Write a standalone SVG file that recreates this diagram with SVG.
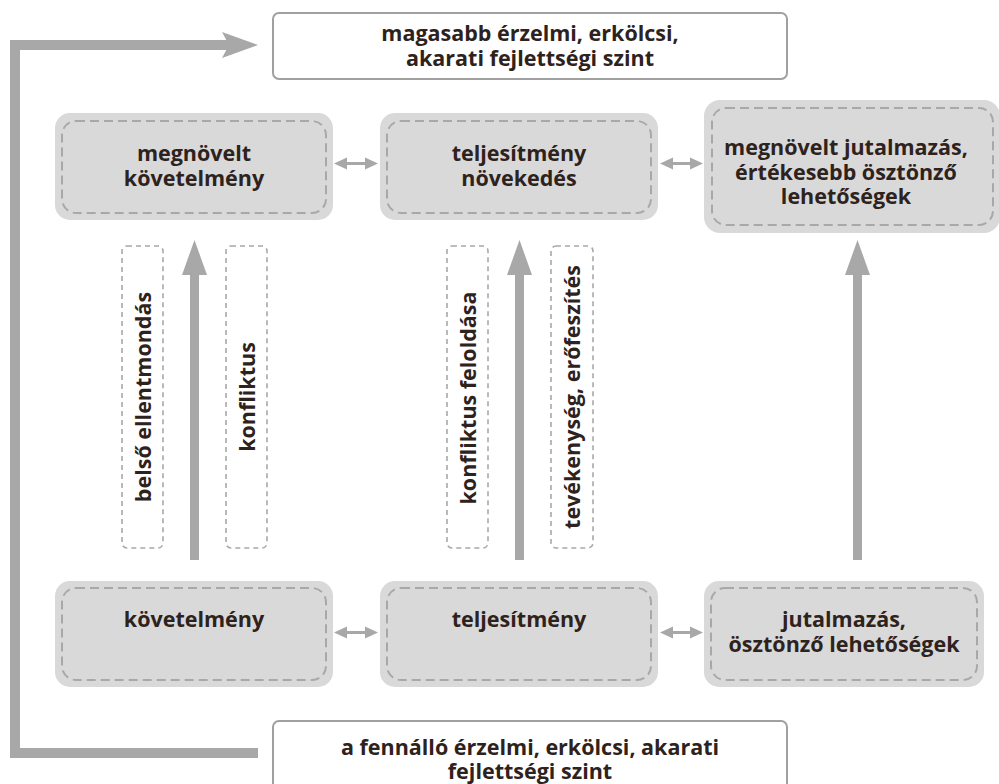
<svg xmlns="http://www.w3.org/2000/svg" width="999" height="784" viewBox="0 0 999 784">
  <defs>
    <style>
      .node-bg { fill: #d9d9d9; }
      .node-dash { fill: none; stroke: #a8a8a8; stroke-width: 2; stroke-dasharray: 9 5; }
      .label-box { fill: none; stroke: #a8a8a8; stroke-width: 1.6; stroke-dasharray: 5 4; }
      .white-box { fill: #ffffff; stroke: #a0a0a0; stroke-width: 2; }
      .t { font-family: "Open Sans", "Noto Sans", "DejaVu Sans", sans-serif; font-weight: 700; font-size: 21.5px; fill: #2e221c; text-anchor: middle; }
      .tv { font-family: "Open Sans", "Noto Sans", "DejaVu Sans", sans-serif; font-weight: 700; font-size: 21.5px; fill: #2e221c; text-anchor: middle; }
      .arrow { fill: #a8a8a8; }
      .line { fill: none; stroke: #a8a8a8; }
    </style>
  </defs>

  <!-- top white box -->
  <g id="higher-level">
    <rect class="white-box" x="273" y="13" width="514" height="66" rx="6"/>
    <text class="t" x="530" y="41">magasabb érzelmi, erkölcsi,</text>
    <text class="t" x="530" y="66">akarati fejlettségi szint</text>
  </g>

  <!-- bottom white box -->
  <g id="current-level">
    <rect class="white-box" x="273" y="721" width="514" height="70" rx="6"/>
    <text class="t" x="530" y="755">a fennálló érzelmi, erkölcsi, akarati</text>
    <text class="t" x="530" y="779">fejlettségi szint</text>
  </g>

  <!-- upper nodes -->
  <g id="increased-requirement">
    <rect class="node-bg" x="55" y="113" width="278" height="107" rx="15"/>
    <rect class="node-dash" x="62" y="121" width="264" height="92" rx="14"/>
    <text class="t" x="194" y="161">megnövelt</text>
    <text class="t" x="194" y="186">követelmény</text>
  </g>
  <g id="performance-growth">
    <rect class="node-bg" x="380" y="113" width="278" height="107" rx="15"/>
    <rect class="node-dash" x="387" y="121" width="264" height="92" rx="14"/>
    <text class="t" x="519" y="161">teljesítmény</text>
    <text class="t" x="519" y="186">növekedés</text>
  </g>
  <g id="increased-reward">
    <rect class="node-bg" x="704" y="100" width="296" height="133" rx="16"/>
    <rect class="node-dash" x="712" y="108" width="281" height="117" rx="14"/>
    <text class="t" x="846" y="155">megnövelt jutalmazás,</text>
    <text class="t" x="846" y="180">értékesebb ösztönző</text>
    <text class="t" x="846" y="204">lehetőségek</text>
  </g>

  <!-- lower nodes -->
  <g id="requirement">
    <rect class="node-bg" x="55" y="581" width="278" height="106" rx="15"/>
    <rect class="node-dash" x="62" y="588" width="264" height="92" rx="14"/>
    <text class="t" x="194" y="627">követelmény</text>
  </g>
  <g id="performance">
    <rect class="node-bg" x="380" y="581" width="278" height="106" rx="15"/>
    <rect class="node-dash" x="387" y="588" width="264" height="92" rx="14"/>
    <text class="t" x="519" y="627">teljesítmény</text>
  </g>
  <g id="reward">
    <rect class="node-bg" x="704" y="581" width="280" height="106" rx="15"/>
    <rect class="node-dash" x="711" y="588" width="266" height="92" rx="14"/>
    <text class="t" x="844" y="627">jutalmazás,</text>
    <text class="t" x="844" y="652">ösztönző lehetőségek</text>
  </g>

  <!-- vertical label boxes -->
  <g id="label-inner-contradiction">
    <rect class="label-box" x="122" y="246" width="41" height="302" rx="5"/>
    <text class="tv" transform="translate(151 397) rotate(-90)">belső ellentmondás</text>
  </g>
  <g id="label-conflict">
    <rect class="label-box" x="226" y="246" width="41" height="302" rx="5"/>
    <text class="tv" transform="translate(255 397) rotate(-90)">konfliktus</text>
  </g>
  <g id="label-conflict-resolution">
    <rect class="label-box" x="447" y="246" width="41" height="302" rx="5"/>
    <text class="tv" transform="translate(476 398) rotate(-90)">konfliktus feloldása</text>
  </g>
  <g id="label-activity">
    <rect class="label-box" x="551" y="246" width="42" height="302" rx="5"/>
    <text class="tv" transform="translate(580 397) rotate(-90)">tevékenység, erőfeszítés</text>
  </g>

  <!-- connectors -->
  <g id="connectors">
    <!-- feedback loop -->
    <path class="line" stroke-width="10" d="M258 753 H15 V45 H230"/>
    <polygon class="arrow" points="258,45 222,32 229,45 222,58"/>

    <!-- vertical arrows -->
    <rect class="arrow" x="190" y="270" width="9" height="290"/>
    <polygon class="arrow" points="194.5,240 207,275 182,275"/>
    <rect class="arrow" x="515" y="270" width="9" height="290"/>
    <polygon class="arrow" points="519.5,240 532,275 507,275"/>
    <rect class="arrow" x="853" y="270" width="9" height="290"/>
    <polygon class="arrow" points="857.5,240 870,275 845,275"/>

    <!-- horizontal double arrows -->
    <g>
      <rect class="arrow" x="344" y="162" width="25" height="3"/>
      <polygon class="arrow" points="334,163.5 347,157.5 347,169.5"/>
      <polygon class="arrow" points="378,163.5 365,157.5 365,169.5"/>
    </g>
    <g>
      <rect class="arrow" x="670" y="162" width="24" height="3"/>
      <polygon class="arrow" points="660,163.5 673,157.5 673,169.5"/>
      <polygon class="arrow" points="703,163.5 690,157.5 690,169.5"/>
    </g>
    <g>
      <rect class="arrow" x="344" y="631" width="25" height="3"/>
      <polygon class="arrow" points="334,632.5 347,626.5 347,638.5"/>
      <polygon class="arrow" points="378,632.5 365,626.5 365,638.5"/>
    </g>
    <g>
      <rect class="arrow" x="670" y="631" width="24" height="3"/>
      <polygon class="arrow" points="660,632.5 673,626.5 673,638.5"/>
      <polygon class="arrow" points="703,632.5 690,626.5 690,638.5"/>
    </g>
  </g>
</svg>
